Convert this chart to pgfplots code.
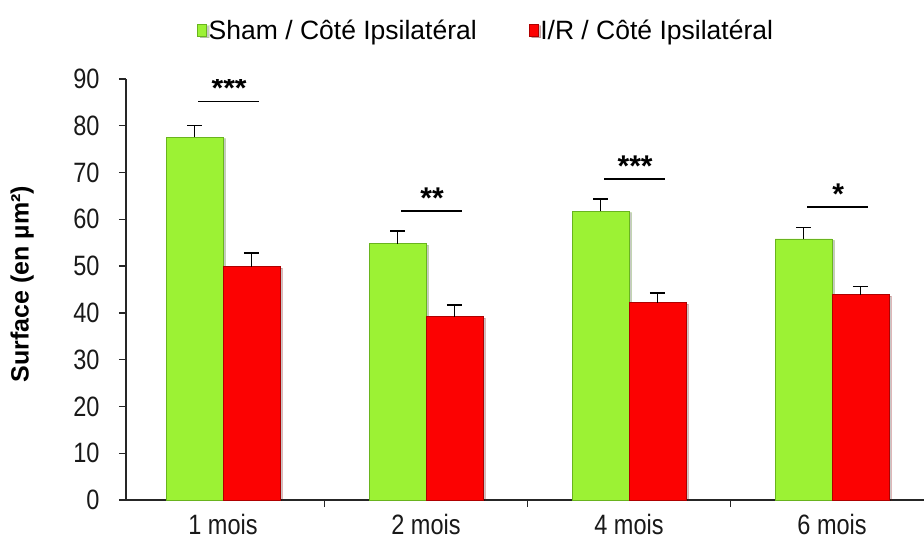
\documentclass[border=0pt]{standalone}
\usepackage{pgfplots}
\pgfplotsset{compat=1.18}
\usetikzlibrary{shadows}
\usepackage{fontspec}
\setmainfont{Liberation Sans}
\newfontfamily\tickfont{Liberation Sans}[FakeStretch=0.84]
\definecolor{barG}{RGB}{156,242,52}
\definecolor{barGd}{RGB}{105,180,30}
\definecolor{barR}{RGB}{252,2,2}
\definecolor{barRd}{RGB}{175,0,0}
\pgfplotstableread{
x y e
-0.14 77.6 2.5
0.86 54.8 2.7
1.86 61.75 2.6
2.86 55.8 2.5
}\sham
\pgfplotstableread{
x y e
0.14 49.9 2.9
1.14 39.2 2.5
2.14 42.2 2.0
3.14 43.9 1.7
}\ir
\begin{document}
\begin{tikzpicture}
\begin{axis}[
  at={(126pt,44pt)}, anchor=south west,
  scale only axis, width=798pt, height=421pt,
  xmin=-0.478, xmax=3.453, ymin=0, ymax=90,
  axis x line=bottom, axis y line=left,
  axis line style={-, line width=1.5pt, draw=black!85},
  tick align=outside,
  major tick length=7pt,
  tick style={line width=1.3pt, black!85},
  ytick={0,10,...,90},
  xtick={0.5,1.5,2.5}, xticklabels={},
  extra x ticks={0,1,2,3},
  extra x tick labels={1 mois,2 mois,4 mois,6 mois},
  extra x tick style={major tick length=0pt},
  /pgf/number format/assume math mode=true,
  ticklabel style={font=\tickfont\fontsize{28}{28}\selectfont, text=black!90},
  yticklabel style={xshift=-16pt},
  xticklabel style={yshift=-13pt, inner ysep=1pt},
  ylabel={Surface (en µm²)},
  ylabel style={font=\bfseries\fontsize{25}{25}\selectfont, at={(axis description cs:-0.130,0.513)}, anchor=center},
  legend columns=2,
  legend style={at={(axis description cs:0.089,1.116)}, anchor=west, draw=none, fill=none, inner sep=0pt,
    font=\fontsize{26.5}{26.5}\selectfont, /tikz/every even column/.append style={column sep=50pt}},
  legend cell align=left,
  bar width=0.28,
]
\addplot[ybar, bar shift=0, fill=barG, draw=barGd, line width=0.6pt,
  drop shadow={shadow xshift=2.5pt, shadow yshift=-1.5pt, fill=black, opacity=0.22},
  legend image code/.code={\draw[fill=barG, draw=barGd, line width=0.5pt] (0pt,-6pt) rectangle (9pt,6pt);},
  error bars/.cd, y dir=plus, y explicit, error mark=|,
  error bar style={line width=1.5pt, black},
  error mark options={line width=1.5pt, mark size=7.5pt, black}]
  table[x=x, y=y, y error=e]{\sham};
\addlegendentry{Sham / Côté Ipsilatéral}
\addplot[ybar, bar shift=0, fill=barR, draw=barRd, line width=0.6pt,
  drop shadow={shadow xshift=2.5pt, shadow yshift=-1.5pt, fill=black, opacity=0.22},
  legend image code/.code={\draw[fill=barR, draw=barRd, line width=0.5pt] (0pt,-6pt) rectangle (9pt,6pt);},
  error bars/.cd, y dir=plus, y explicit, error mark=|,
  error bar style={line width=1.5pt, black},
  error mark options={line width=1.5pt, mark size=7.5pt, black}]
  table[x=x, y=y, y error=e]{\ir};
\addlegendentry{I/R / Côté Ipsilatéral}
% significance bars
\draw[line width=1.6pt, black] (axis cs:-0.123,85.2) -- (axis cs:0.177,85.2);
\draw[line width=1.6pt, black] (axis cs:0.877,61.75) -- (axis cs:1.177,61.75);
\draw[line width=1.6pt, black] (axis cs:1.877,68.6) -- (axis cs:2.177,68.6);
\draw[line width=1.6pt, black] (axis cs:2.877,62.6) -- (axis cs:3.177,62.6);
\node[font=\bfseries\fontsize{30}{30}\selectfont, anchor=base, yshift=3pt] at (axis cs:0.03,85.2) {***};
\node[font=\bfseries\fontsize{30}{30}\selectfont, anchor=base, yshift=3pt] at (axis cs:1.03,61.75) {**};
\node[font=\bfseries\fontsize{30}{30}\selectfont, anchor=base, yshift=3pt] at (axis cs:2.03,68.6) {***};
\node[font=\bfseries\fontsize{30}{30}\selectfont, anchor=base, yshift=3pt] at (axis cs:3.03,62.6) {*};
\end{axis}
\pgfresetboundingbox
\path (0,0) rectangle (924pt,544pt);
\end{tikzpicture}
\end{document}
